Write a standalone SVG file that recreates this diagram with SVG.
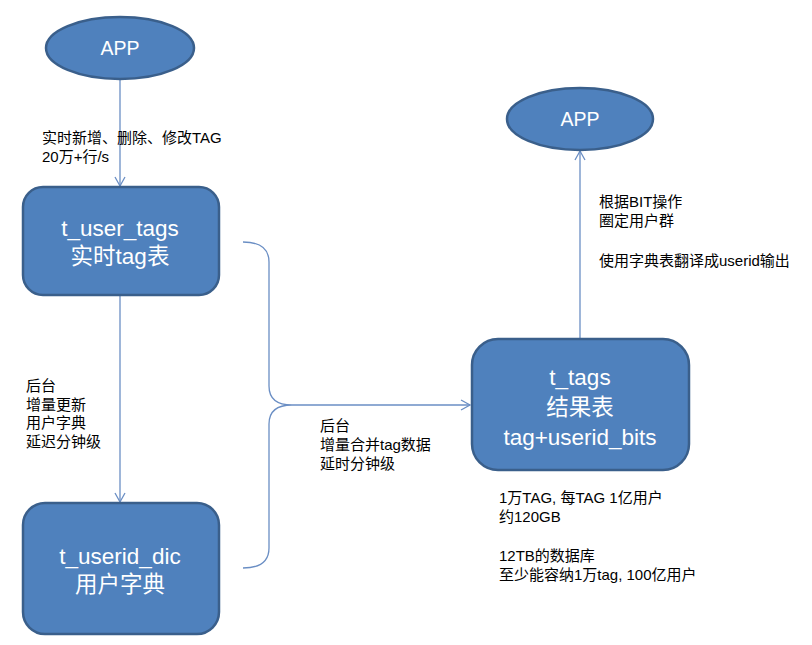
<svg xmlns="http://www.w3.org/2000/svg" width="812" height="645" viewBox="0 0 812 645">
<style>
.node{fill:#4F81BD;stroke:#3A5F8B;stroke-width:2.5}
.nt{fill:#fff;font-family:"Liberation Sans","Noto Sans CJK SC",sans-serif;text-anchor:middle}
.lbl{fill:#000;font-family:"Liberation Sans","Noto Sans CJK SC",sans-serif;font-size:15px}
.con{fill:none;stroke:#6A8EC4;stroke-width:1.3}
</style>
<defs>
<marker id="arr" markerWidth="12" markerHeight="12" refX="10" refY="6" orient="auto" markerUnits="userSpaceOnUse">
<path d="M1,1 L10,6 L1,11" fill="none" stroke="#6A8EC4" stroke-width="1.3"/>
</marker>
</defs>
<rect width="812" height="645" fill="#fff"/>
<g id="connectors">
<line class="con" x1="120" y1="80" x2="120" y2="186" marker-end="url(#arr)"/>
<line class="con" x1="120" y1="296" x2="120" y2="502" marker-end="url(#arr)"/>
<line class="con" x1="580" y1="339" x2="580" y2="151" marker-end="url(#arr)"/>
<path class="con" d="M243,242 Q269,242 269,262 L269,386 Q269,405 292,405 Q269,405 269,424 L269,548 Q269,568 243,568"/>
<line class="con" x1="292" y1="405" x2="470" y2="405" marker-end="url(#arr)"/>
</g>
<g id="app1">
<ellipse class="node" cx="120" cy="48" rx="74" ry="31"/>
<text class="nt" x="120" y="55" font-size="19.5">APP</text>
</g>
<g id="t_user_tags">
<rect class="node" x="23" y="187" width="196" height="108" rx="20"/>
<text class="nt" x="120" y="236" font-size="22.5">t_user_tags</text>
<text class="nt" x="120" y="264" font-size="22.5">实时tag表</text>
</g>
<g id="t_userid_dic">
<rect class="node" x="23" y="503" width="196" height="131" rx="22"/>
<text class="nt" x="120" y="564" font-size="22.5">t_userid_dic</text>
<text class="nt" x="120" y="592" font-size="22.5">用户字典</text>
</g>
<g id="t_tags">
<rect class="node" x="472" y="339" width="217" height="131" rx="26"/>
<text class="nt" x="580" y="385" font-size="22.5">t_tags</text>
<text class="nt" x="580" y="415" font-size="22.5">结果表</text>
<text class="nt" x="580" y="445" font-size="22.5">tag+userid_bits</text>
</g>
<g id="app2">
<ellipse class="node" cx="580" cy="119" rx="73" ry="31"/>
<text class="nt" x="580" y="126" font-size="19.5">APP</text>
</g>
<g id="labels">
<text class="lbl" x="42" y="143">实时新增、删除、修改TAG</text>
<text class="lbl" x="42" y="162">20万+行/s</text>
<text class="lbl" x="26" y="391">后台</text>
<text class="lbl" x="26" y="410">增量更新</text>
<text class="lbl" x="26" y="428">用户字典</text>
<text class="lbl" x="26" y="447">延迟分钟级</text>
<text class="lbl" x="320" y="431">后台</text>
<text class="lbl" x="320" y="450">增量合并tag数据</text>
<text class="lbl" x="320" y="469">延时分钟级</text>
<text class="lbl" x="599" y="207">根据BIT操作</text>
<text class="lbl" x="599" y="226">圈定用户群</text>
<text class="lbl" x="599" y="266">使用字典表翻译成userid输出</text>
<text class="lbl" x="499" y="503">1万TAG, 每TAG 1亿用户</text>
<text class="lbl" x="499" y="522">约120GB</text>
<text class="lbl" x="499" y="561">12TB的数据库</text>
<text class="lbl" x="499" y="580">至少能容纳1万tag, 100亿用户</text>
</g>
</svg>
